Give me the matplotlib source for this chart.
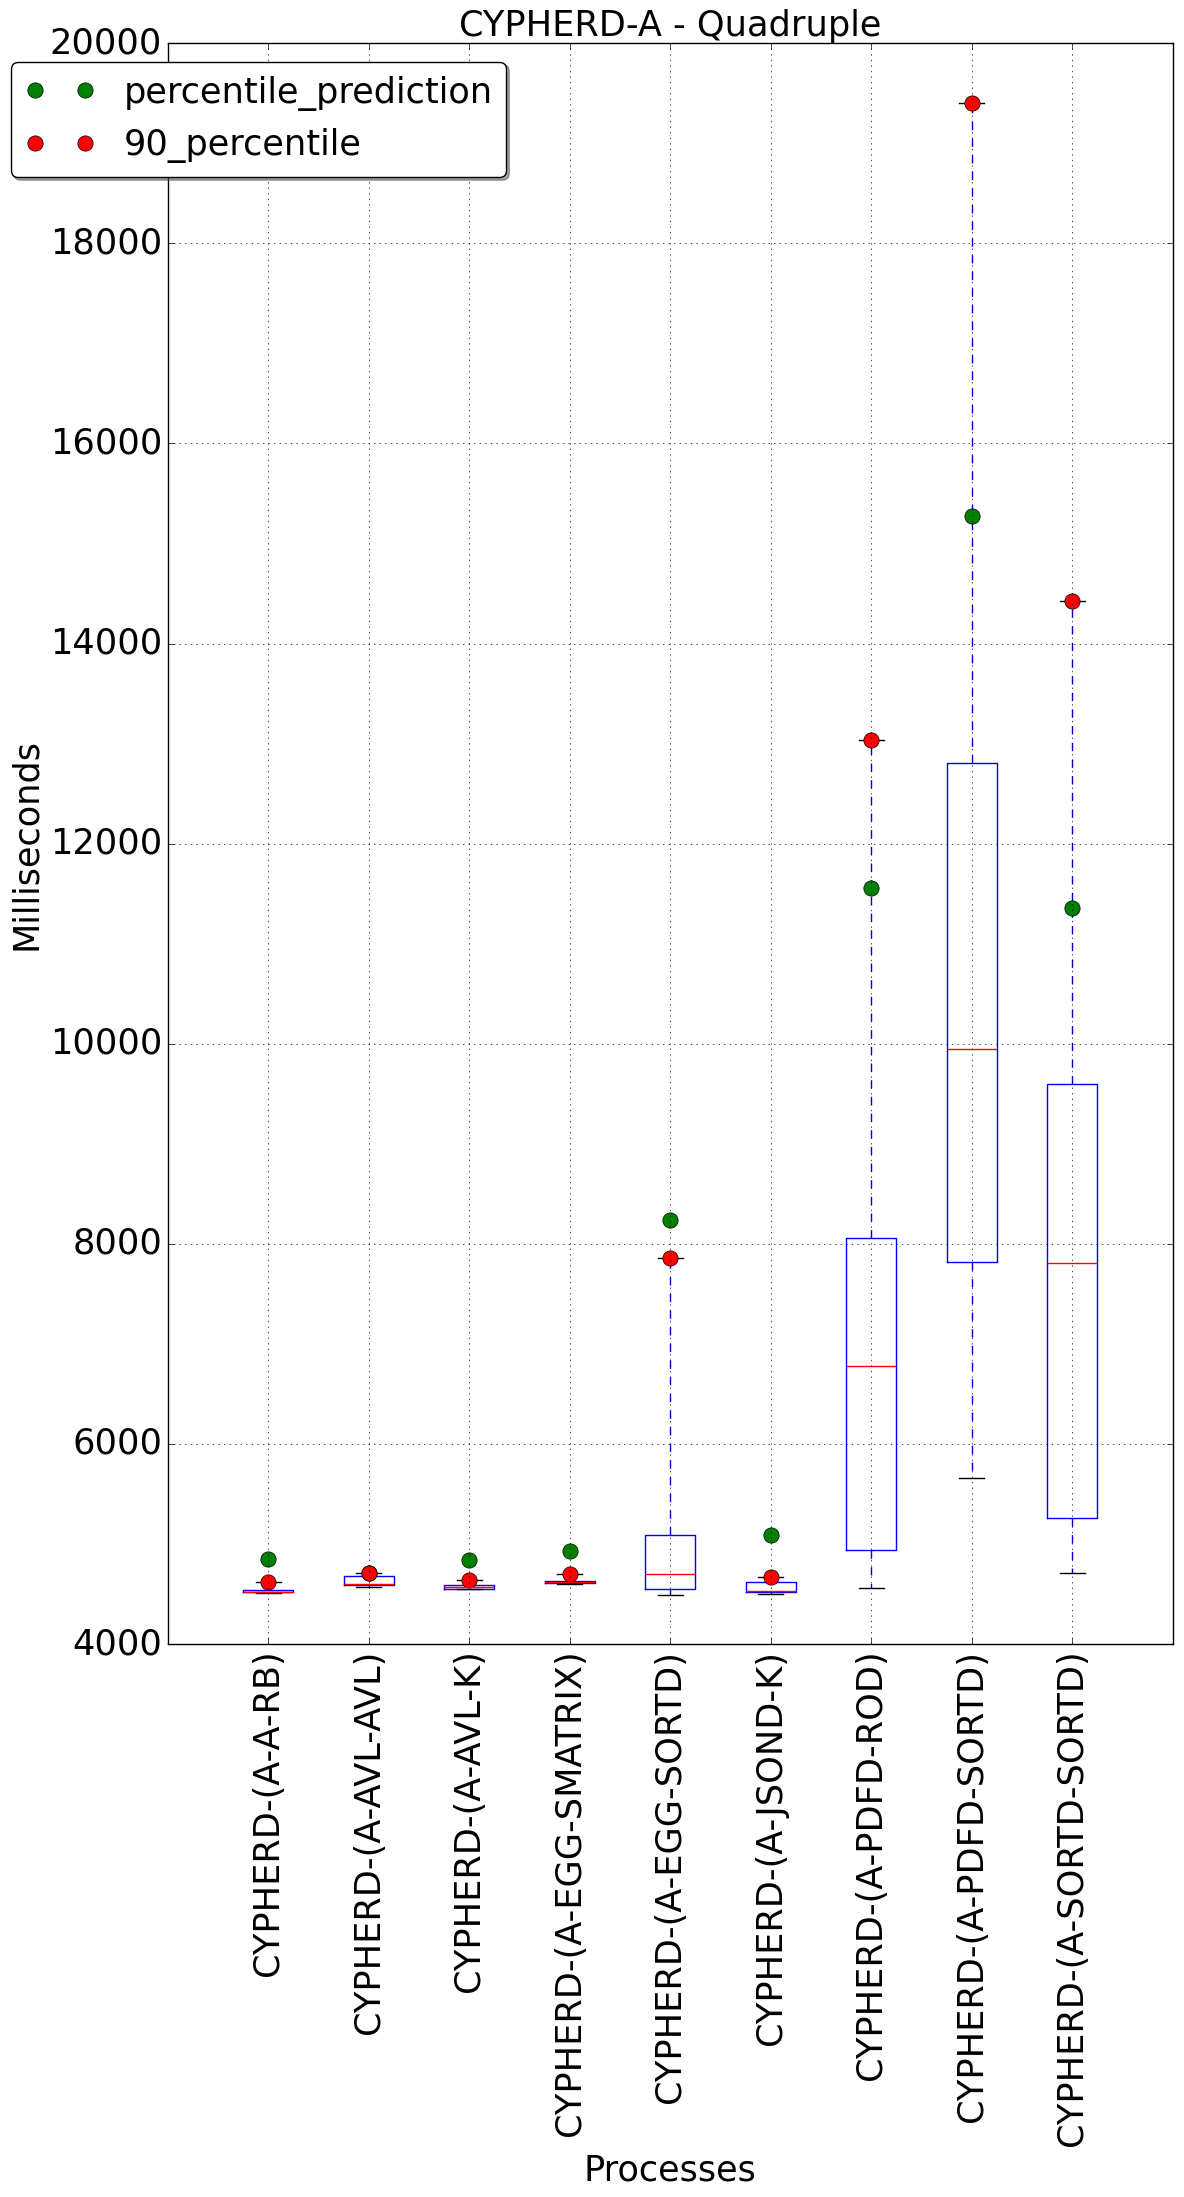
import matplotlib
matplotlib.use('Agg')
import matplotlib.pyplot as plt

# --- data ---
processes = ['CYPHERD-(A-A-RB)', 'CYPHERD-(A-AVL-AVL)', 'CYPHERD-(A-AVL-K)',
             'CYPHERD-(A-EGG-SMATRIX)', 'CYPHERD-(A-EGG-SORTD)', 'CYPHERD-(A-JSOND-K)',
             'CYPHERD-(A-PDFD-ROD)', 'CYPHERD-(A-PDFD-SORTD)', 'CYPHERD-(A-SORTD-SORTD)']
whislo = [4505, 4570, 4550, 4597, 4487, 4500, 4557, 5657, 4707]
q1 = [4515, 4587, 4553, 4607, 4547, 4517, 4937, 7817, 5257]
med = [4520, 4603, 4567, 4617, 4697, 4533, 6783, 9945, 7807]
q3 = [4540, 4677, 4587, 4630, 5087, 4617, 8057, 12803, 9595]
whishi = [4620, 4710, 4640, 4697, 7863, 4670, 13040, 19407, 14425]
percentile_prediction = [4850, 4705, 4840, 4930, 8240, 5087, 11556, 15273, 11360]
percentile_90 = [4620, 4710, 4640, 4697, 7863, 4670, 13040, 19407, 14425]

FS = 25.3

plt.style.use('classic')
plt.rcParams['font.size'] = FS

fig = plt.figure(figsize=(11.84, 21.97), dpi=100, facecolor='white')
ax = fig.add_axes([0.1416, 0.2517, 0.849, 0.7286])

stats = []
for i, name in enumerate(processes):
    stats.append({'label': name, 'med': med[i], 'q1': q1[i], 'q3': q3[i],
                  'whislo': whislo[i], 'whishi': whishi[i], 'fliers': []})

positions = list(range(1, len(processes) + 1))
ax.bxp(stats, positions=positions, widths=0.5, showfliers=False)

ax.plot(positions, percentile_prediction, 'o', color='green', markersize=11,
        markeredgecolor='black', label='percentile_prediction')
ax.plot(positions, percentile_90, 'o', color='red', markersize=11,
        markeredgecolor='black', label='90_percentile')

ax.set_xlim(0, 10)
ax.set_ylim(4000, 20000)
ax.set_yticks(range(4000, 20001, 2000))
ax.set_xticks(positions)
ax.set_xticklabels(processes, rotation=90)
ax.grid(True)

ax.set_title('CYPHERD-A - Quadruple', fontsize=FS)
ax.set_xlabel('Processes', fontsize=FS)
ax.set_ylabel('Milliseconds', fontsize=FS)

ax.legend(loc='upper left', bbox_to_anchor=(-0.156, 0.9885), borderaxespad=0,
          numpoints=2, fancybox=True, shadow=True, fontsize=FS)

fig.savefig('out.png', dpi=100, facecolor='white')
